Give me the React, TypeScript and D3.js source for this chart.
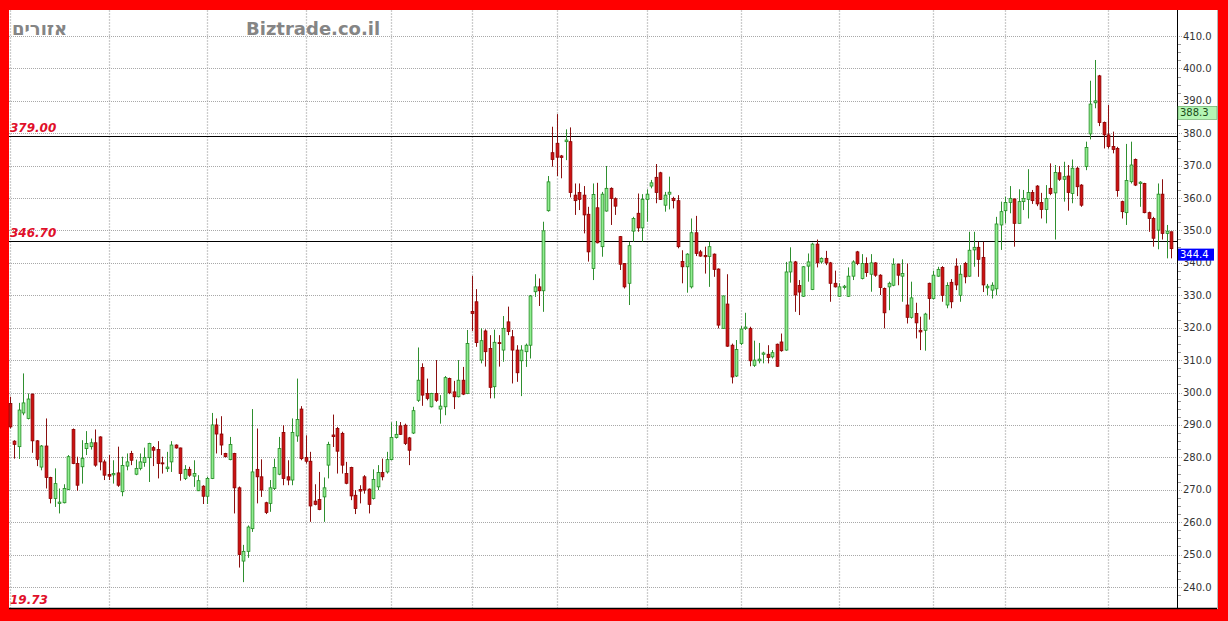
import React from "react";
import * as d3 from "d3";

const opens = [296.6,285,283.3,293.7,292,299.5,285.1,277,283.5,273.8,267.3,265.8,266,270.1,288.6,278.1,277.1,282.7,283.3,284.5,286.3,278.6,274.7,274.6,275.2,269.4,277.3,281.2,274.8,276.6,278.4,279.9,283,282.4,278.3,276.5,278.6,283.8,282.9,273.5,276.3,274.2,269.7,271.1,268,273.5,290,287.2,281.2,279.3,281.2,270.6,248,251,258,
276.3,274,266,265.8,270.4,274.8,287.7,274,273,286.6,294.9,280,278.8,266.5,267,267.8,277.6,286.9,288.9,287.4,275,276.9,268.3,270.1,274,270.2,267.3,270.9,275.3,275.5,279.3,286.1,289.7,289.9,286,287.5,297.6,307.7,299.7,295.6,299.7,294.9,295.6,304.3,300.2,298.7,303.8,299.7,
325,328,310,319,313.6,301.8,315.4,313.1,321.8,317.2,313.1,309.8,312.6,314.6,331.1,332.6,331.4,356.1,374,376.9,373,377.4,377.4,360.9,361.7,360.9,355,338.3,357,345,356,363,359.8,348.1,339.8,333.7,349.8,355.3,350.8,359.6,363.7,366.4,367.8,357.8,361.2,359.9,359.2,340.4,338.8,332.6,349.3,343.4,342.3,342,
342.7,338.1,319.8,327.3,314.6,305.1,315.1,319.8,319.8,308.4,309.8,311.8,311.8,311,314.9,315.6,313.1,337.2,340.3,333,329.7,339,331.8,345.8,340.3,341.4,340,333.7,329.7,332.4,329.7,335.9,343.4,335.2,339.8,336.5,340,336.2,332.1,332.6,333.1,339.6,335.9,327,323.2,324.4,319.2,319.2,333.7,329,335.9,
338.6,327,334,339,330,339.8,335.9,344,344.8,341.7,332.3,331.6,332,351.7,356.1,358.6,359.7,352.2,358.9,359.6,361.7,363.7,358.6,356.5,363,361.6,367.8,365.8,366.8,361.4,369.2,364,369.7,379.8,389.4,397.7,383.3,379.5,375.9,375.3,358.9,355.5,365.05,371.9,364.5,364.5,355.5,353.7,350.1,361.2,349.1,349.6];

const highs = [298.7,285.3,296.8,305.9,299.7,299.7,285.3,283.8,292,274,276.6,270.4,271.7,280.7,288.9,280.2,285.3,288.1,285.8,288.6,286.5,279.3,280.7,279.1,283.3,280.2,281.2,282,279.3,281.2,283,284.5,283.5,285,280.2,281.7,285,284,283,277.6,277.1,279.1,274.5,271.4,274,293.7,292,292.7,281.4,286.3,281.4,271,253,259,294.9,
288.9,279.4,266.3,273,279.6,286.3,289.9,279.1,292,304.3,295.8,286.8,281.7,271.7,275.5,273.8,284.8,293.2,289.4,287.9,278.6,277.1,269.9,271.4,274.5,270.4,276.3,277.6,279.6,281.7,290.8,291.2,290.9,290.4,286.3,295.6,313.9,309,304.3,299.9,310,299.2,305.1,304.6,303.6,310,307.9,319.3,
336,331.9,319.8,319.5,317.7,319.4,317.7,323.6,326.5,319.3,314.6,314.6,315.1,330.1,336.5,335.2,352.7,366.8,382,385.9,373.3,381.2,381.8,364.5,364.5,363.7,357.3,364.5,364.7,361.9,369.9,363.3,360.2,348.3,339.8,346.5,354.2,361.4,361.2,362.7,365.6,370.5,368.1,361.9,366.6,360.4,360.9,343.9,343,353.7,354.5,344,345,346.5,
342.9,338.3,329.9,336.5,315.1,316.2,320.5,324.6,320.3,316,315.3,312.6,314.6,313.1,315.1,318.2,340.3,344.8,340.6,334.7,339,342.9,346.2,347.2,341.7,343.7,340.3,337.6,333.7,333.2,338.6,340.8,343.7,342.7,341.7,342.7,340.2,336.5,332.4,334.2,341.4,339.8,341.1,339.8,334.2,327.7,323.4,324.6,333.9,337.6,338.8,
339,334,335,341.4,339.3,340.3,349.6,349.6,346.5,346.5,333.5,334,354.2,358.9,360.4,363.7,359.9,362.7,362.5,368.9,362.5,364,361.6,364,370.7,370.2,369.9,371.2,370.2,371.9,369.7,364.3,377.4,396.2,402.6,398,383.6,388.7,380.5,375.8,359.2,376.7,377.4,372.2,365.2,364.7,355.8,354.2,364.5,365.8,351.7,349.6];

const lows = [288.9,279.6,279.5,293,291.7,281.4,277.3,276,270.4,265.8,264.7,262.7,265.8,269.9,277.9,269.7,271.9,280.7,282.4,277.1,276,273,273,271.9,270.9,268,276,277.6,274.5,276,277.1,272.4,277.3,273.5,275,275.5,275.5,282.7,272.8,273,274,270.9,269.6,265.6,265.6,273.3,281.2,280.7,280,279.1,262.7,246,241.5,249,257,
265.8,267.8,262.5,263.2,269.9,274.5,271.4,271.4,271.4,284.8,279.1,278.1,260.1,265.2,263.7,260.1,273.5,283.2,275,275,271.7,266.8,262.5,265.8,268.8,262.7,267,269.9,272.9,275,279.1,285.8,286.9,283.8,277.6,287.2,297.1,295.9,297.6,295.4,297.1,290.4,293,299.5,294.9,298.5,299.2,299.5,
319,314.1,309,308,298.2,298.2,308,309.5,317.7,302.8,303.3,298.9,307.9,310.5,329.5,326.7,324.9,355.8,369.7,366.8,366.1,371.7,360.2,354.8,356.3,349.1,340.4,334.7,346,341.9,355.8,351.7,354.8,337.8,332.1,327,346.5,349.6,346.5,352.7,363,358.4,359.4,355.8,356.5,356.8,344.5,333.7,330.8,332.1,342.1,341.9,336.7,332.6,
335.7,319.8,319.6,314.1,302.8,304.8,314.6,319.3,308.1,307.9,309,309,309,310.5,307.9,312.6,312.9,333.9,324.9,323.9,329.5,334.2,331.6,338.6,339.8,339.3,328,332.4,329.5,331.8,329.5,334.7,339.3,334.9,335.7,331.1,335.7,330.1,319.8,325.4,332.8,333.1,328,321.3,322.8,316.7,313.1,312.9,322.5,328.7,335.7,
328,326,326,331.6,328,333.7,335.7,338.8,335.7,331,330,329,330,344,352.2,355.3,345,352.2,356.3,353.7,358.2,357.5,353.7,352.2,360.9,347.2,365.3,358.9,356.1,358.4,360.6,357.3,368.6,378.1,387.7,382.2,375.3,375.3,373.8,360.4,353.7,351.7,364.5,363.7,357.3,355.3,349.6,345,344.2,347.2,341.4,341.4];

const closes = [289.4,284,294.6,296.8,298,285.1,279.4,283.5,273.8,267.3,271.9,266.2,270.4,280.2,278.1,271.4,279.7,284.3,284.5,277.6,278.6,274.5,274.2,275,271.4,277.5,278.6,279.1,276.6,278.6,280,284.3,282.2,278.1,278,277,283.8,282.9,275,276.3,274.5,275,272.8,268,273.5,290,287.2,283.8,280.2,284,270.6,250,251,258.5,275.5,
274,269.9,263,270.6,276.9,282.7,273.5,273,287.7,291.7,279.6,278.8,265,265.5,263.9,270.6,284,286.4,281.9,277.6,272,268.1,264.2,269.6,269.9,265.5,273.2,275.3,274,279.3,286.1,287.1,287.1,284.3,282.2,294.4,303.8,299.2,298.2,299.7,297.6,295.8,304.6,299.9,298.7,303.8,299.5,315.1,
324.4,315.4,316,312.6,301.6,315.5,315.2,319.8,318.8,313.1,306.1,313.1,314.6,329.8,332.6,331.4,349.9,365,371.9,372.6,372.5,377.9,361.7,359.2,359.6,354.8,343.4,361.1,346.2,361.2,363,359.9,357.5,339.6,332.6,345.3,353.7,350.8,359.6,361.2,364.7,361.7,359.6,360.9,361.8,359.2,345,338.8,342.7,349.3,342.9,342.1,341.9,345,
338,320.8,329.8,314.3,304.8,313.3,319.6,320.2,309.8,310,310.3,312.2,310.8,312.3,308.1,312.9,337.2,340.3,330.1,331,338.8,340.3,345.8,340,341.4,340,333.7,332.6,332.6,332.8,335.9,340.3,339.8,339.8,337,340,336.2,332.4,324.6,333.7,339.6,336.2,336.7,323.2,329.2,321.5,318.7,324.2,329,336.2,338,
330,333,328,333.2,336.5,335.7,343.9,344.8,341.1,333.2,332.8,333.1,352,355.8,358.6,359.9,352.2,358.9,359.9,361.7,359.2,358.2,356.5,359.9,361.4,367.9,365.8,366.6,361.7,369.2,363.5,357.8,375.6,389,390,383.3,379.5,375.9,375,362.3,355.8,365.4,370.2,364,364.9,355.5,353.7,347.6,361.2,349.1,349.8,344.4];

const yTicks = [240, 250, 260, 270, 280, 290, 300, 310, 320, 330, 340, 350, 360, 370, 380, 390, 400, 410];
const levelLines = [379.0, 346.7];
const levelLabels = ["379.00", "346.70"];
const bottomLabel = "19.73";
const monthStarts = [0, 22, 44, 66, 85, 103, 122, 142, 163, 185, 206, 222, 245];
const lastPrice = 344.4;
const markPrice = 388.3;
const titleLeft = "אזורים";
const titleSite = "Biztrade.co.il";

const W = 1228;
const H = 621;
const plotL = 9;
const plotR = 1177;
const plotT = 10;
const plotB = 608;

export default function App() {
  const n = closes.length;
  const x = d3.scaleLinear().domain([0, n - 1]).range([10, 10 + 4.483 * (n - 1)]);
  const y = d3.scaleLinear().domain([240, 410]).range([587, 36]);
  const minorTicks = d3.range(237.5, 412.5, 2.5).filter((v) => Math.abs(v % 10) > 0.01);
  const axisFont = "'DejaVu Sans', Verdana, sans-serif";
  const bw = 2.8;

  return (
    <svg width={W} height={H} style={{ position: "absolute", left: 0, top: 0 }} xmlns="http://www.w3.org/2000/svg">
      <rect x={0} y={0} width={W} height={H} fill="#ff0000" />
      <rect x={plotL} y={plotT} width={1217 - plotL} height={plotB + 1 - plotT} fill="#ffffff" />
      <line x1={1217.5} x2={1217.5} y1={plotT} y2={plotB + 1} stroke="#b8b8b8" />

      {/* vertical grid */}
      {monthStarts.map((m) => (
        <line key={"v" + m} x1={Math.round(x(m)) + 0.5} x2={Math.round(x(m)) + 0.5} y1={plotT} y2={plotB}
          stroke="#cccccc" strokeWidth={1.3} strokeDasharray="2,1" />
      ))}
      {/* horizontal grid */}
      {yTicks.map((t) => (
        <line key={"h" + t} x1={plotL} x2={plotR + 6} y1={Math.round(y(t)) + 0.5} y2={Math.round(y(t)) + 0.5}
          stroke="#a8a8a8" strokeDasharray="1,1" />
      ))}

      {/* level lines */}
      {levelLines.map((v) => (
        <line key={"l" + v} x1={plotL} x2={plotR} y1={Math.round(y(v)) + 0.5} y2={Math.round(y(v)) + 0.5} stroke="#000" />
      ))}

      {/* candles */}
      {closes.map((c, i) => {
        const o = opens[i];
        const up = c >= o;
        const cx = Math.round(x(i)) + 0.5;
        const hi = Math.max(highs[i], o, c);
        const lo = Math.min(lows[i], o, c);
        const top = y(Math.max(o, c));
        const bot = y(Math.min(o, c));
        const h = Math.max(1, bot - top);
        return (
          <g key={"c" + i}>
            <line x1={cx} x2={cx} y1={y(hi)} y2={y(lo)} stroke={up ? "#2f8f2f" : "#8a1010"} strokeWidth={1} />
            <rect x={cx - bw / 2} y={top} width={bw} height={h}
              fill={up ? "#90ee90" : "#cc1111"} stroke={up ? "#228b22" : "#8b0000"} strokeWidth={0.8} />
          </g>
        );
      })}

      {/* right axis */}
      <line x1={plotR + 0.5} x2={plotR + 0.5} y1={plotT} y2={plotB} stroke="#000" />
      {minorTicks.map((t) => (
        <line key={"m" + t} x1={plotR + 1} x2={plotR + 4} y1={Math.round(y(t)) + 0.5} y2={Math.round(y(t)) + 0.5} stroke="#999" />
      ))}
      {yTicks.map((t) => (
        <text key={"t" + t} x={1183} y={y(t) + 3.5} fontFamily={axisFont} fontSize={10} fill="#333">
          {t.toFixed(1)}
        </text>
      ))}

      {/* price boxes */}
      <rect x={plotR + 1} y={y(markPrice)} width={39} height={13} fill="#b4f5b4" stroke="#5aa05a" strokeWidth={0.6} />
      <text x={1180} y={y(markPrice) + 10} fontFamily={axisFont} fontSize={10} fill="#1a4a1a">{markPrice.toFixed(1)}</text>
      <rect x={plotR + 1} y={y(lastPrice)} width={36} height={12} fill="#0000ff" />
      <text x={1180} y={y(lastPrice) + 9.5} fontFamily={axisFont} fontSize={10} fill="#ffffff">{lastPrice.toFixed(1)}</text>

      {/* bottom border */}
      <line x1={plotL} x2={1217} y1={plotB + 0.5} y2={plotB + 0.5} stroke="#000" strokeWidth={1.5} />

      {/* level labels */}
      {levelLines.map((v, k) => (
        <text key={"ll" + v} x={10} y={y(v) - 4} fontFamily={axisFont} fontSize={12} fontWeight="bold" fontStyle="italic" fill="#e0102a">
          {levelLabels[k]}
        </text>
      ))}
      <text x={10} y={604} fontFamily={axisFont} fontSize={12} fontWeight="bold" fontStyle="italic" fill="#e0102a">{bottomLabel}</text>

      {/* titles */}
      <text x={12} y={35} fontFamily={axisFont} fontSize={18} fontWeight="bold" fill="#858585">{titleLeft}</text>
      <text x={246} y={35} fontFamily={axisFont} fontSize={18} fontWeight="bold" fill="#858585">{titleSite}</text>
    </svg>
  );
}
